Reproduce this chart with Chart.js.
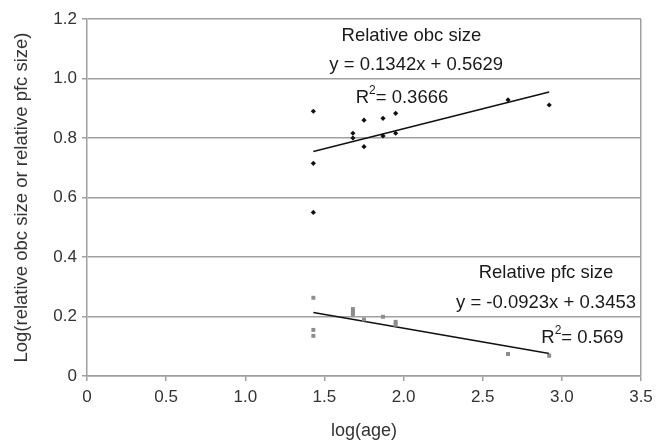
<!DOCTYPE html>
<html>
<head>
<meta charset="utf-8">
<script src="https://cdn.jsdelivr.net/npm/chart.js@4/dist/chart.umd.min.js"></script>
<style>
html,body{margin:0;padding:0;background:#fff;}
#wrap{width:663px;height:442px;}
</style>
</head>
<body>
<div id="wrap"><canvas id="c" width="663" height="442"></canvas></div>
<script>
// ---- data ----
const obcX = [1.43, 1.43, 1.43, 1.68, 1.68, 1.75, 1.75, 1.87, 1.87, 1.95, 1.95, 2.66, 2.92];
const obcY = [0.89, 0.715, 0.55, 0.816, 0.80, 0.86, 0.771, 0.866, 0.807, 0.883, 0.816, 0.928, 0.911];
const pfcX = [1.43, 1.43, 1.43, 1.68, 1.68, 1.68, 1.75, 1.87, 1.95, 1.95, 2.66, 2.92];
const pfcY = [0.263, 0.155, 0.135, 0.225, 0.216, 0.208, 0.19, 0.199, 0.182, 0.172, 0.074, 0.068];
// trend line coefficients [slope, intercept] and R^2
const obcFit = [0.1342, 0.5629];
const pfcFit = [-0.0923, 0.3453];
const obcR2 = "0.3666";
const pfcR2 = "0.569";
const yTicks = [0, 0.2, 0.4, 0.6, 0.8, 1.0, 1.2];
const xTicks = [0, 0.5, 1.0, 1.5, 2.0, 2.5, 3.0, 3.5];

const pts = (xs, ys) => xs.map((x, i) => ({x: x, y: ys[i]}));
const fitLine = (xs, f) => {
  const lo = Math.min(...xs), hi = Math.max(...xs);
  return [{x: lo, y: f[0] * lo + f[1]}, {x: hi, y: f[0] * hi + f[1]}];
};
const fmtEq = f => 'y = ' + f[0].toFixed(4) + 'x + ' + f[1].toFixed(4);

const FONT = '"Liberation Sans", Arial, sans-serif';
const GRID = '#a0a0a0';
const ANN = 18.5;

const annotations = [
  {text: 'Relative obc size', x: 2.05, y: 1.143},
  {text: fmtEq(obcFit), x: 2.08, y: 1.046},
  {r2: obcR2, x: 1.99, y: 0.935},
  {text: 'Relative pfc size', x: 2.90, y: 0.347},
  {text: fmtEq(pfcFit), x: 2.90, y: 0.246},
  {r2: pfcR2, x: 3.13, y: 0.128}
];

const textPlugin = {
  id: 'texts',
  afterDatasetsDraw(chart) {
    const c = chart.ctx, xs = chart.scales.x, ys = chart.scales.y;
    c.save();
    c.fillStyle = '#1a1a1a';
    c.textBaseline = 'middle';
    annotations.forEach(a => {
      const px = xs.getPixelForValue(a.x), py = ys.getPixelForValue(a.y);
      if (a.text) {
        c.font = ANN + 'px ' + FONT;
        c.textAlign = 'center';
        c.fillText(a.text, px, py);
      } else {
        c.font = ANN + 'px ' + FONT;
        const rest = '= ' + a.r2;
        const wR = c.measureText('R').width;
        c.font = '12px ' + FONT;
        const w2 = c.measureText('2').width;
        c.font = ANN + 'px ' + FONT;
        const wRest = c.measureText(rest).width;
        let sx = px - (wR + w2 + wRest) / 2;
        c.textAlign = 'left';
        c.fillText('R', sx, py);
        c.font = '12px ' + FONT;
        c.fillText('2', sx + wR, py - 7);
        c.font = ANN + 'px ' + FONT;
        c.fillText(rest, sx + wR + w2, py);
      }
    });
    c.restore();
  }
};

new Chart(document.getElementById('c'), {
  type: 'scatter',
  data: {
    datasets: [
      {label: 'obc', data: pts(obcX, obcY), pointStyle: 'rectRot', pointRadius: 2.6,
       backgroundColor: '#111', borderColor: '#111', borderWidth: 0},
      {label: 'pfc', data: pts(pfcX, pfcY), pointStyle: 'rect', pointRadius: 2.8,
       backgroundColor: '#8c8c8c', borderColor: '#8c8c8c', borderWidth: 0},
      {label: 'obcFit', type: 'line', data: fitLine(obcX, obcFit), borderColor: '#111',
       borderWidth: 1.6, pointRadius: 0, fill: false},
      {label: 'pfcFit', type: 'line', data: fitLine(pfcX, pfcFit), borderColor: '#111',
       borderWidth: 1.6, pointRadius: 0, fill: false}
    ]
  },
  options: {
    responsive: false,
    animation: false,
    layout: {padding: {top: 19, right: 22, left: 0, bottom: 0}},
    plugins: {legend: {display: false}, tooltip: {enabled: false}},
    scales: {
      x: {
        type: 'linear', min: 0, max: 3.5,
        afterBuildTicks(s) { s.ticks = xTicks.map(v => ({value: v})); },
        afterFit(s) { s.height = 66; },
        ticks: {
          color: '#333', font: {family: FONT, size: 17}, padding: 6,
          callback: v => v === 0 ? '0' : Number(v).toFixed(1), maxRotation: 0
        },
        grid: {
          drawOnChartArea: true,
          color: c => (c.tick && c.tick.value === 3.5) ? GRID : 'rgba(0,0,0,0)',
          tickColor: GRID, tickLength: 5, lineWidth: 1.5
        },
        border: {display: true, color: GRID, width: 1.5},
        title: {display: true, text: 'log(age)', color: '#333', font: {family: FONT, size: 18}, padding: {top: 5, bottom: 0}}
      },
      y: {
        type: 'linear', min: 0, max: 1.2,
        afterBuildTicks(s) { s.ticks = yTicks.map(v => ({value: v})); },
        afterFit(s) { s.width = 87; },
        ticks: {
          color: '#333', font: {family: FONT, size: 17}, padding: 5,
          callback: v => v === 0 ? '0' : Number(v).toFixed(1)
        },
        grid: {color: GRID, lineWidth: 1.5, tickColor: GRID, tickLength: 5},
        border: {display: true, color: GRID, width: 1.5},
        title: {display: true, text: 'Log(relative obc size or relative pfc size)', color: '#333',
                font: {family: FONT, size: 18.5}, padding: {top: 11, bottom: 0}}
      }
    }
  },
  plugins: [textPlugin]
});
</script>
</body>
</html>
